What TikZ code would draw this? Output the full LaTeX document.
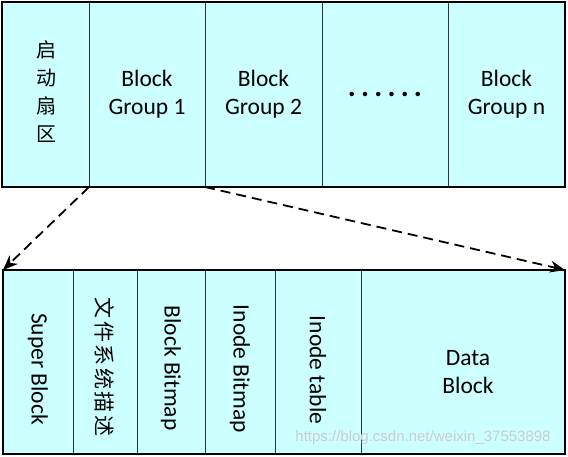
\documentclass[tikz,border=0pt]{standalone}
\usepackage{fontspec}
\setmainfont{Carlito}
\newfontfamily\cjk{Noto Sans CJK SC}
\newfontfamily\wmfont{Liberation Sans}
\usetikzlibrary{arrows.meta,calc}
\definecolor{cellfill}{HTML}{CCFFFF}
\newcommand{\cjkgap}{\hspace{2.5pt}}
\begin{document}
\begin{tikzpicture}[x=1pt,y=-1pt,
  cell/.style={draw=black!80,line width=0.8pt,fill=cellfill,inner sep=0,outer sep=0,anchor=north west},
  lbl/.style={font=\fontsize{23.5}{28}\selectfont,align=center,inner sep=0},
  cjklbl/.style={font=\cjk\fontsize{20}{28}\selectfont,align=center,inner sep=0},
  vlbl/.style={font=\fontsize{23.5}{28}\selectfont,rotate=-90,inner sep=0},
  vcjk/.style={font=\cjk\fontsize{21}{28}\selectfont,rotate=-90,inner sep=0},
  outerbox/.style={draw=black,line width=2pt},
  link/.style={dash pattern=on 10pt off 6pt,line width=1.8pt,-{Stealth[length=15pt,width=12pt]}}
]
\useasboundingbox (0,0) rectangle (568,457);
% top row
\node[cell,minimum width=87,minimum height=185] (boot) at (2,2) {};
\node[cell,minimum width=116,minimum height=185] (bg1) at (89,2) {};
\node[cell,minimum width=117,minimum height=185] (bg2) at (205,2) {};
\node[cell,minimum width=126,minimum height=185] (dots) at (322,2) {};
\node[cell,minimum width=117,minimum height=185] (bgn) at (448,2) {};
\draw[outerbox] (boot.north west) rectangle (bgn.south east);
\node[cjklbl] (bootlbl) at ($(boot.center)+(1,-3)$) {启\\动\\扇\\区};
\node[lbl] (bg1lbl) at (bg1.center) {Block\\Group 1};
\node[lbl] (bg2lbl) at (bg2.center) {Block\\Group 2};
\node[lbl,font=\bfseries\fontsize{30}{30}\selectfont] (dotlbl) at (dots.center) {.\hspace{5.2pt}.\hspace{5.2pt}.\hspace{5.2pt}.\hspace{5.2pt}.\hspace{5.2pt}.};
\node[lbl] (bgnlbl) at (bgn.center) {Block\\Group n};
% bottom row
\node[cell,minimum width=70,minimum height=184] (sb) at (3,270) {};
\node[cell,minimum width=64,minimum height=184] (fsd) at (73,270) {};
\node[cell,minimum width=68,minimum height=184] (bb) at (137,270) {};
\node[cell,minimum width=70,minimum height=184] (ib) at (205,270) {};
\node[cell,minimum width=86,minimum height=184] (it) at (275,270) {};
\node[cell,minimum width=204,minimum height=184] (db) at (361,270) {};
\draw[outerbox] (sb.north west) rectangle (db.south east);
\node[vlbl] (sblbl) at ($(sb.center)+(0,7)$) {Super Block};
\node[vcjk] (fsdlbl) at ($(fsd.center)+(0,5)$) {文\cjkgap 件\cjkgap 系\cjkgap 统\cjkgap 描\cjkgap 述};
\node[vlbl] (bblbl) at ($(bb.center)+(0,6)$) {Block Bitmap};
\node[vlbl] (iblbl) at ($(ib.center)+(0,7)$) {Inode Bitmap};
\node[vlbl] (itlbl) at ($(it.center)+(0,8)$) {Inode table};
\node[lbl] (dblbl) at ($(db.center)+(5,10)$) {Data\\Block};
% connectors
\draw[link] (boot.south east) -- (sb.north west);
\draw[link] (bg1.south east) -- (db.north east);
% watermark
\node[font=\wmfont\fontsize{15}{18}\selectfont,text=gray!40,inner sep=0] (wm) at (423,438) {https://blog.csdn.net/weixin\_37553898};
\end{tikzpicture}
\end{document}
